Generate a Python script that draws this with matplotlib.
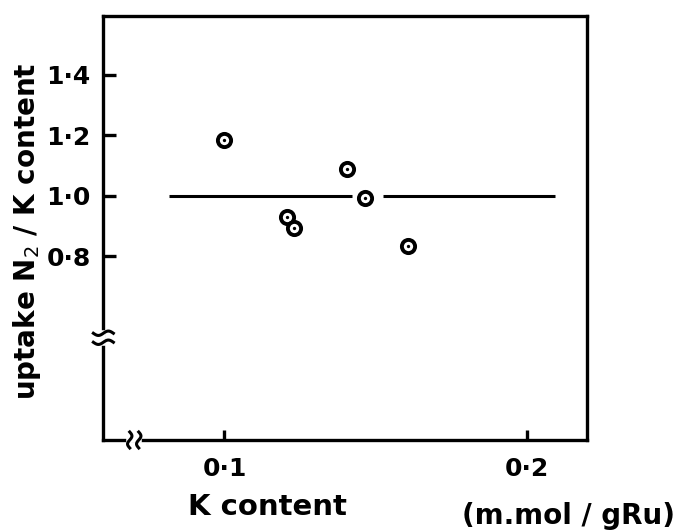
import numpy as np
from matplotlib import pyplot as plt

# K content (m.mol / gRu) and uptake N2 / K content
k_content = [0.100, 0.1205, 0.123, 0.1405, 0.1465, 0.1605]
uptake_ratio = [1.186, 0.930, 0.894, 1.090, 0.993, 0.834]

ref_level = 1.0
ref_spans = [(0.0818, 0.1421), (0.1524, 0.2092)]

x_ticks = [0.1, 0.2]
x_ticklabels = ["0\u00b71", "0\u00b72"]
y_ticks = [0.8, 1.0, 1.2, 1.4]
y_ticklabels = ["0\u00b78", "1\u00b70", "1\u00b72", "1\u00b74"]

x_break = 0.0702
y_break = 0.531

xlim = (0.060, 0.2197)
ylim = (0.193, 1.595)

plt.rcParams['font.family'] = ['DejaVu Sans']

fig = plt.figure(figsize=(6.8, 5.31), dpi=100)
ax = fig.add_axes([0.152, 0.1714, 0.711, 0.7986])
ax.set_xlim(*xlim)
ax.set_ylim(*ylim)

for sp in ax.spines.values():
    sp.set_linewidth(2.4)

# reference line at 1.0, broken around one point
for a, b in ref_spans:
    ax.plot([a, b], [ref_level, ref_level], color='k', lw=2.2, solid_capstyle='butt')

# circled-dot markers
ax.plot(k_content, uptake_ratio, 'o', ms=9.5, mfc='white', mec='k', mew=2.8, zorder=5)
ax.plot(k_content, uptake_ratio, 'o', ms=2.4, mfc='k', mec='k', mew=0, zorder=6)

ax.set_xticks(x_ticks)
ax.set_xticklabels(x_ticklabels, fontweight='bold')
ax.set_yticks(y_ticks)
ax.set_yticklabels(y_ticklabels, fontweight='bold')
ax.tick_params(axis='both', direction='in', width=2.4, labelsize=18)
ax.tick_params(axis='y', length=9, pad=9)
ax.tick_params(axis='x', length=7, pad=12)

# axis break marks, sized in pixels
axw = 0.711 * 680
axh = 0.7986 * 531
t = np.linspace(-1, 1, 30)

# y-axis break: white gap in the spine + two horizontal tildes
yb = (y_break - ylim[0]) / (ylim[1] - ylim[0])
ax.plot([0, 0], [yb - 5 / axh, yb + 5 / axh], color='white', lw=4,
        transform=ax.transAxes, clip_on=False, zorder=10)
for off in (-4.5, 4.5):
    xs = t * 10 / axw
    ys = yb + (off + 2.2 * np.sin(np.pi * t)) / axh
    ax.plot(xs, ys, color='k', lw=2.2, transform=ax.transAxes, clip_on=False, zorder=11)

# x-axis break
xb = (x_break - xlim[0]) / (xlim[1] - xlim[0])
ax.plot([xb - 5 / axw, xb + 5 / axw], [0, 0], color='white', lw=4,
        transform=ax.transAxes, clip_on=False, zorder=10)
for off in (-4.5, 4.5):
    xs = xb + (off + 2.2 * np.sin(np.pi * t)) / axw
    ys = t * 8 / axh
    ax.plot(xs, ys, color='k', lw=2.2, transform=ax.transAxes, clip_on=False, zorder=11)

fig.text(27 / 680, 1 - 231 / 531, "uptake N$_2$ / K content", rotation=90,
         ha='center', va='center', fontsize=20, fontweight='bold')
fig.text(267 / 680, 1 - 515 / 531, "K content", ha='center', va='baseline',
         fontsize=21, fontweight='bold')
fig.text(568 / 680, 1 - 524 / 531, "(m.mol / gRu)", ha='center', va='baseline',
         fontsize=20, fontweight='bold')

fig.savefig("out.png", dpi=100)
